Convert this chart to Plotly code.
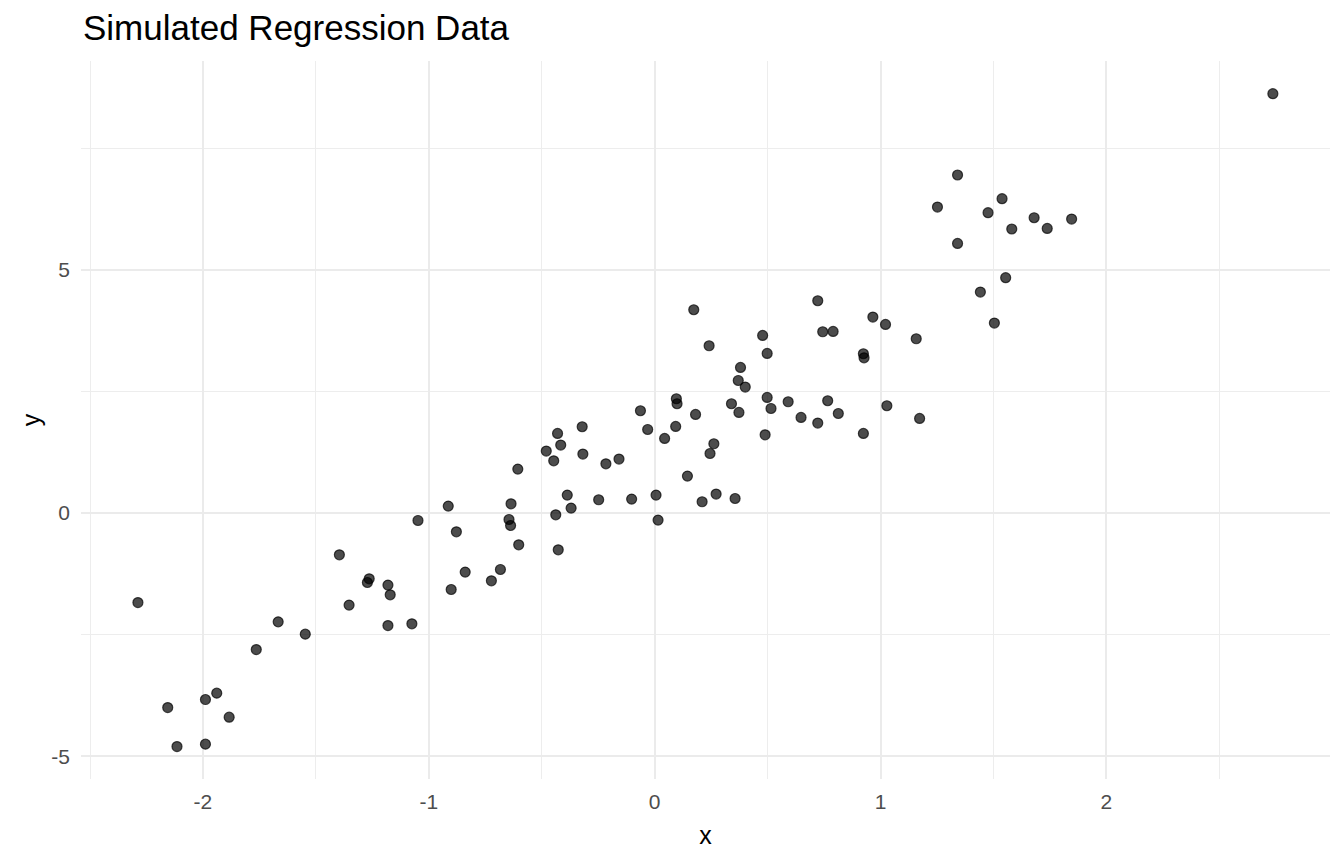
import plotly.graph_objects as go

x_vals = [
    -2.288, -2.156, -2.115, -1.989, -1.989, -1.939, -1.884, -1.764, -1.667, -1.547,
    -1.396, -1.353, -1.272, -1.264, -1.181, -1.171, -1.181, -1.075, -1.048, -0.914,
    -0.878, -0.839, -0.901, -0.723, -0.683, -0.606, -0.636, -0.645, -0.638, -0.602,
    -0.480, -0.447, -0.430, -0.416, -0.438, -0.427, -0.387, -0.370, -0.321, -0.318,
    -0.248, -0.216, -0.158, -0.102, -0.063, -0.031, 0.006, 0.015, 0.044, 0.093,
    0.096, 0.099, 0.145, 0.181, 0.173, 0.241, 0.478, 0.498, 0.380, 0.370,
    0.401, 0.722, 0.744, 0.790, 0.966, 1.022, 0.924, 0.927, 0.340, 0.373,
    0.498, 0.515, 0.591, 0.648, 0.722, 0.766, 0.813, 1.028, 0.924, 0.489,
    0.262, 0.245, 0.210, 0.272, 0.356, 1.341, 1.252, 1.476, 1.538, 1.581,
    1.680, 1.738, 1.846, 1.341, 1.554, 1.442, 1.504, 1.158, 1.173, 2.737,
]
y_vals = [
    -1.840, -4.000, -4.802, -4.753, -3.835, -3.704, -4.198, -2.807, -2.237, -2.490,
    -0.858, -1.893, -1.428, -1.352, -1.481, -1.681, -2.313, -2.278, -0.152, 0.144,
    -0.385, -1.214, -1.572, -1.393, -1.160, 0.905, 0.191, -0.132, -0.255, -0.652,
    1.276, 1.076, 1.638, 1.399, -0.035, -0.755, 0.370, 0.103, 1.776, 1.214,
    0.274, 1.014, 1.111, 0.288, 2.105, 1.720, 0.370, -0.144, 1.535, 1.782,
    2.352, 2.249, 0.761, 2.029, 4.183, 3.442, 3.654, 3.284, 2.996, 2.728,
    2.593, 4.368, 3.730, 3.737, 4.033, 3.881, 3.278, 3.195, 2.249, 2.070,
    2.379, 2.152, 2.290, 1.967, 1.852, 2.311, 2.049, 2.208, 1.638, 1.611,
    1.426, 1.226, 0.233, 0.391, 0.300, 6.955, 6.296, 6.179, 6.467, 5.844,
    6.076, 5.856, 6.049, 5.547, 4.842, 4.547, 3.909, 3.586, 1.947, 8.628,
]

x_ticks = [-2, -1, 0, 1, 2]
y_ticks = [-5, 0, 5]

FONT = "Liberation Sans, Arial, sans-serif"

fig = go.Figure()
fig.add_trace(go.Scatter(
    x=x_vals, y=y_vals, mode="markers",
    marker=dict(size=10, color="rgba(0,0,0,0.7)",
                line=dict(width=1.2, color="rgba(0,0,0,0.7)")),
    hoverinfo="skip", showlegend=False,
))

axis_common = dict(
    showgrid=True, gridcolor="#EBEBEB", gridwidth=2.2,
    zeroline=False, showline=False, ticks="",
    tickfont=dict(family=FONT, size=21, color="#4D4D4D"),
    minor=dict(showgrid=True, gridcolor="#EDEDED", gridwidth=1.2),
)

fig.update_xaxes(
    range=[-2.54, 2.99], tickvals=x_ticks, ticktext=[str(v) for v in x_ticks],
    minor_dtick=0.5, minor_tick0=-2.5, ticklabelstandoff=8,
    title=dict(text="x", font=dict(family=FONT, size=25, color="black"), standoff=14),
    **axis_common,
)
fig.update_yaxes(
    range=[-5.47, 9.30], tickvals=y_ticks, ticktext=[str(v) for v in y_ticks],
    minor_dtick=2.5, minor_tick0=-2.5, ticklabelstandoff=10,
    title=dict(text="y", font=dict(family=FONT, size=25, color="black"), standoff=3),
    **axis_common,
)

fig.update_layout(
    width=1344, height=864,
    paper_bgcolor="white", plot_bgcolor="white",
    margin=dict(l=73, r=22, t=53, b=93),
    title=dict(text="Simulated Regression Data", x=75/1344, xanchor="left", xref="container",
               y=1 - 20/864, yanchor="middle", yref="container",
               font=dict(family=FONT, size=35, color="black")),
)

fig.write_html("out.html")
